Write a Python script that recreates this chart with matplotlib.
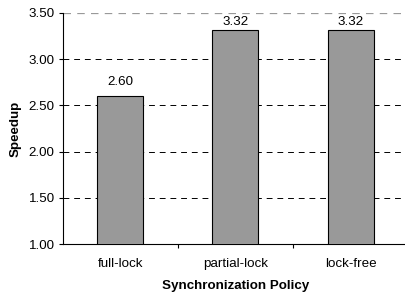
import matplotlib.pyplot as plt
import numpy as np

plt.rcParams['font.family'] = ['Liberation Sans', 'DejaVu Sans']

policies = ["full-lock", "partial-lock", "lock-free"]
speedup = [2.60, 3.32, 3.32]
yticks = [1.00, 1.50, 2.00, 2.50, 3.00, 3.50]

fs = 9.6

fig = plt.figure(figsize=(4.06, 2.94), dpi=100)
ax = fig.add_axes([0.155, 0.17, 0.85, 0.786])

x = np.arange(len(policies))
ax.bar(x, speedup, width=0.4, color='#999999', edgecolor='black', linewidth=0.8, zorder=3)
# labels are kept inside the plot area like the original
for xi, v in zip(x, speedup):
    ax.text(xi, min(v + 0.085, 3.335), "%.2f" % v, ha='center', va='bottom', fontsize=fs)

ax.set_ylim(1.0, 3.5)
ax.set_xlim(-0.5, 2.5)
ax.set_yticks(yticks)
ax.set_yticklabels(["%.2f" % t for t in yticks], fontsize=fs)
for t in yticks[1:-1]:
    ax.axhline(t, color='black', linestyle=(0, (6, 5)), linewidth=0.7, zorder=1)
ax.axhline(3.5, color='#999999', linestyle=(0, (6, 5)), linewidth=0.9, zorder=1)

ax.set_xticks([0.5, 1.5], minor=False)
ax.set_xticklabels([])
ax.set_xticks(x, minor=True)
ax.set_xticklabels(policies, minor=True, fontsize=fs)
ax.tick_params(axis='x', which='minor', length=0, pad=10)
ax.tick_params(axis='x', which='major', length=3, width=0.8, direction='out')
ax.tick_params(axis='y', length=3, width=0.8, direction='out', pad=3)

for s in ['top', 'right']:
    ax.spines[s].set_visible(False)
ax.spines['left'].set_linewidth(0.8)
ax.spines['bottom'].set_linewidth(0.8)

ax.set_xlabel("Synchronization Policy", fontsize=fs, fontweight='bold', labelpad=7)
ax.set_ylabel("Speedup", fontsize=fs, fontweight='bold', labelpad=5)

fig.savefig("out.png", dpi=100)
